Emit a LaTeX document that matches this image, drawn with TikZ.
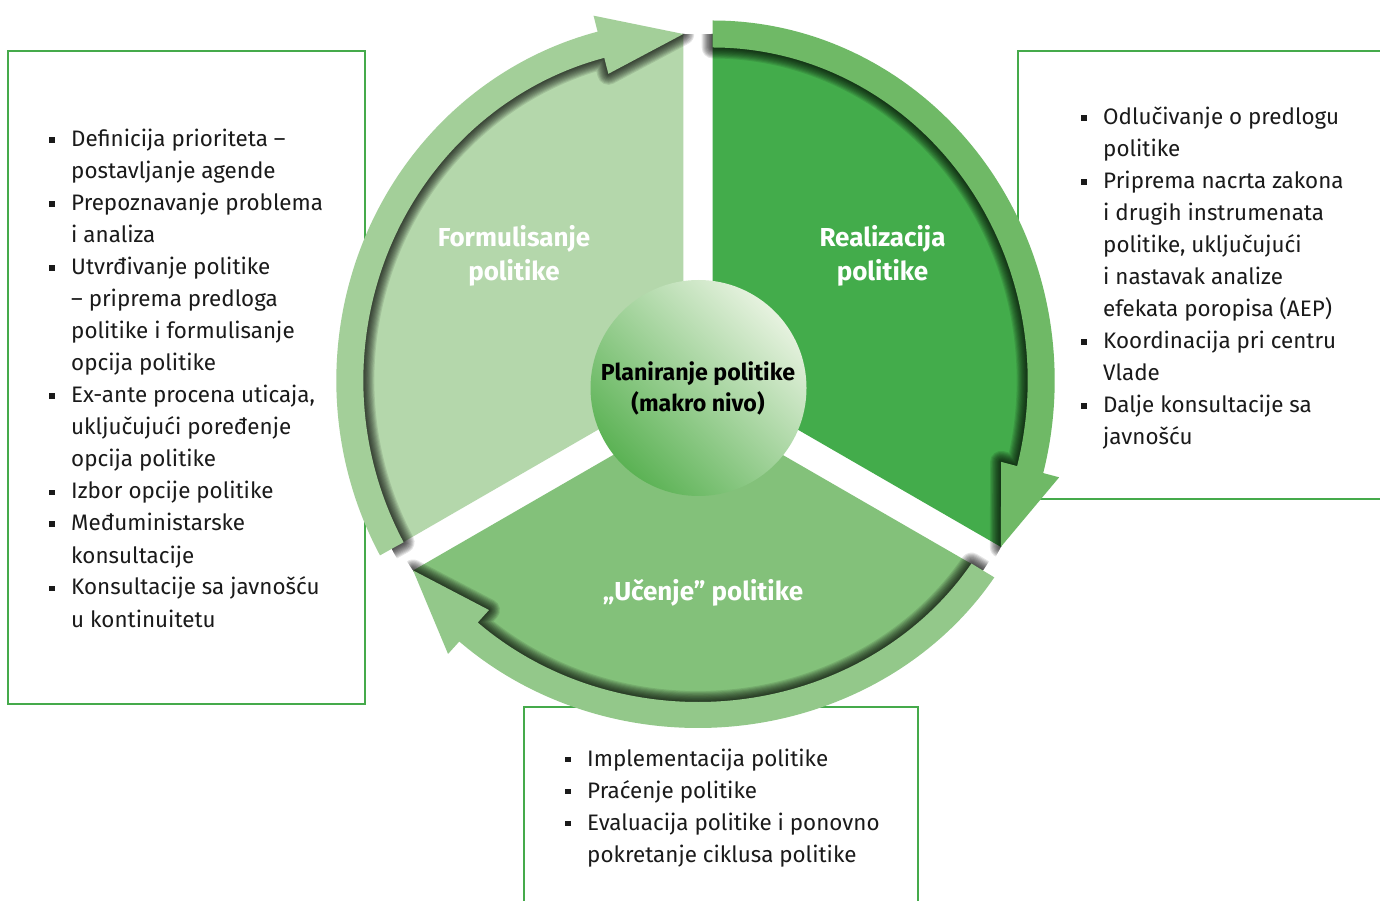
\documentclass[tikz,border=0pt]{standalone}
\usepackage{fontspec}
\setmainfont{Fira Sans}
\usetikzlibrary{calc}
\definecolor{boxgreen}{HTML}{45AA4B}
\definecolor{secL}{HTML}{B4D7AB}
\definecolor{bandL}{HTML}{A3CF99}
\definecolor{secR}{HTML}{43AC4B}
\definecolor{bandR}{HTML}{6FB966}
\definecolor{secB}{HTML}{83C17A}
\definecolor{bandB}{HTML}{93C88A}
\definecolor{coreDark}{HTML}{5BB254}
\definecolor{coreLight}{HTML}{E6F2DF}
\definecolor{bodyink}{HTML}{1A1A1A}
\newcommand\bul{\leavevmode\llap{\rule[4pt]{5.5pt}{5.5pt}\hspace{16.5pt}}}
\tikzset{
  infobox/.style={draw=boxgreen, line width=2.5pt, fill=white},
  bodytext/.style={font=\fontsize{22.4}{32}\selectfont, text=bodyink, align=left, anchor=base west, inner sep=0pt},
  seclabel/.style={font=\fontsize{26}{34}\selectfont\bfseries, text=white, anchor=base, inner sep=0pt},
  corelabel/.style={font=\fontsize{23.2}{31}\selectfont\bfseries, text=black, anchor=base, inner sep=0pt},
  shadowstroke/.style={black, opacity=0.1, line join=round},
}
\def\pathL{(209.06:347 and 360) arc[start angle=209.06, end angle=104.3, x radius=347, y radius=360] -- (104.3:363.5 and 376.5) -- (90:333.5 and 346.5) -- (104.3:303.5 and 316.5) -- (104.3:320 and 333) arc[start angle=104.3, end angle=209.06, x radius=320, y radius=333] -- cycle}
\def\pathR{(90:342 and 360) arc[start angle=90, end angle=-14.9, x radius=342, y radius=360] -- (-14.9:358.5 and 376.5) -- (-28.7:328.5 and 346.5) -- (-14.9:298.5 and 316.5) -- (-14.9:315 and 333) arc[start angle=-14.9, end angle=90, x radius=315, y radius=333] -- cycle}
\def\pathB{(-32.16:350 and 322) arc[start angle=-32.16, end angle=-133, x radius=350, y radius=322] -- (-133:366.5 and 339) -- (-147.84:336.5 and 309) -- (-133:306.5 and 279) -- (-133:323 and 296) arc[start angle=-133, end angle=-32.16, x radius=323, y radius=296] -- cycle}
\begin{document}
\begin{tikzpicture}[x=1pt,y=1pt]
\useasboundingbox (0,0) rectangle (1380,900);
\clip (0,0) rectangle (1380,900);
\fill[white] (0,0) rectangle (1380,900);

% boxes
\draw[infobox] (8,196) rectangle (365,849);
\draw[infobox] (1018,401) rectangle (1400,849);
\draw[infobox] (524,193) rectangle (918,-20);

% sectors
\begin{scope}[shift={(683.3,519.5)}]
  \fill[secL] (0,0) -- (209.06:333.5 and 346.5) arc[start angle=209.06, end angle=90, x radius=333.5, y radius=346.5] -- cycle;
\end{scope}
\begin{scope}[shift={(712.7,519.5)}]
  \fill[secR] (0,0) -- (90:328.5 and 346.5) arc[start angle=90, end angle=-28.7, x radius=328.5, y radius=346.5] -- cycle;
\end{scope}
\begin{scope}[shift={(698,494)}]
  \fill[secB] (0,0) -- (-32.16:336.5 and 309) arc[start angle=-32.16, end angle=-147.84, x radius=336.5, y radius=309] -- cycle;
\end{scope}

% shadows
\begin{scope}[shift={(683.3,519.5)}]
  \clip (0,0) ellipse [x radius=333.5, y radius=346.5];
  \foreach \k in {1,...,10} \draw[shadowstroke, line width=\k*2.2pt] \pathL;
\end{scope}
\begin{scope}[shift={(712.7,519.5)}]
  \clip (0,0) ellipse [x radius=328.5, y radius=346.5];
  \foreach \k in {1,...,10} \draw[shadowstroke, line width=\k*2.2pt] \pathR;
\end{scope}
\begin{scope}[shift={(698,494)}]
  \clip (0,0) ellipse [x radius=336.5, y radius=309];
  \foreach \k in {1,...,10} \draw[shadowstroke, line width=\k*2.2pt] \pathB;
\end{scope}

% bands with arrowheads
\begin{scope}[shift={(683.3,519.5)}]
  \fill[bandL] \pathL;
\end{scope}
\begin{scope}[shift={(712.7,519.5)}]
  \fill[bandR] \pathR;
\end{scope}
\begin{scope}[shift={(698,494)}]
  \fill[bandB] \pathB;
\end{scope}

% centre
\shade[shading=axis, top color=coreLight, bottom color=coreDark, shading angle=-45] (698.5,512) circle[radius=108];
\node[corelabel] (core1) at (698,519) {Planiranje politike};
\node[corelabel] (core2) at (698,488.5) {(makro nivo)};

% sector labels
\node[seclabel] (fl1) at (514,653) {Formulisanje};
\node[seclabel] (fl2) at (514,619) {politike};
\node[seclabel] (rl1) at (882.5,653) {Realizacija};
\node[seclabel] (rl2) at (882.5,619) {politike};
\node[seclabel] (ul) at (703,300) {„Učenje” politike};

% box texts (anchor = baseline of last line)
\node[bodytext] (lt) at (71,273) {\bul Definicija prioriteta –\\
postavljanje agende\\
\bul Prepoznavanje problema\\
i analiza\\
\bul Utvrđivanje politike\\
– priprema predloga\\
politike i formulisanje\\
opcija politike\\
\bul Ex-ante procena uticaja,\\
uključujući poređenje\\
opcija politike\\
\bul Izbor opcije politike\\
\bul Međuministarske\\
konsultacije\\
\bul Konsultacije sa javnošću\\
u kontinuitetu};

\node[bodytext] (rt) at (1103,455) {\bul Odlučivanje o predlogu\\
politike\\
\bul Priprema nacrta zakona\\
i drugih instrumenata\\
politike, uključujući\\
i nastavak analize\\
efekata poropisa (AEP)\\
\bul Koordinacija pri centru\\
Vlade\\
\bul Dalje konsultacije sa\\
javnošću};

\node[bodytext] (bt) at (587,38) {\bul Implementacija politike\\
\bul Praćenje politike\\
\bul Evaluacija politike i ponovno\\
pokretanje ciklusa politike};
\end{tikzpicture}
\end{document}
